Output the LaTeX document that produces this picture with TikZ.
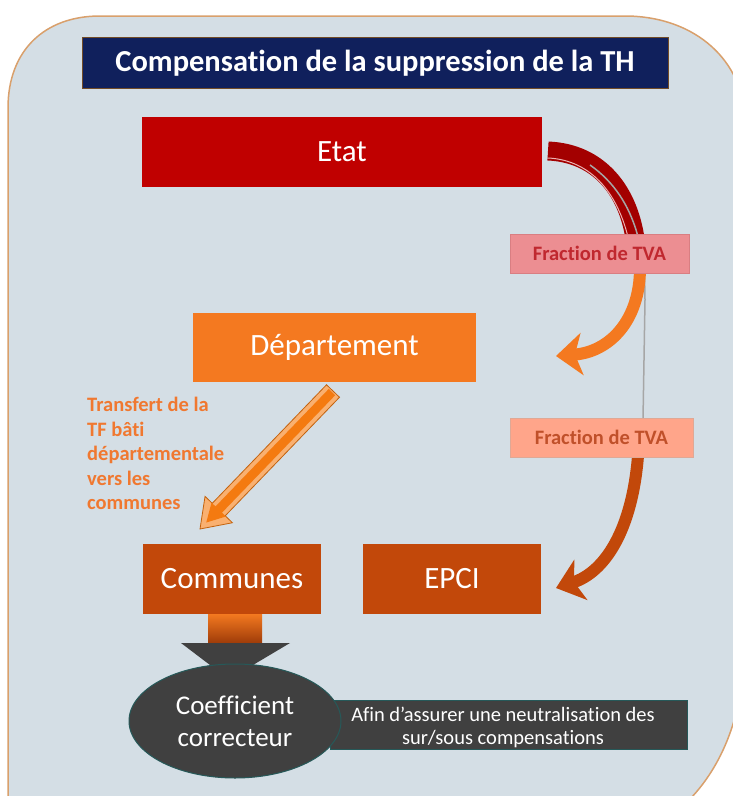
\documentclass[tikz,border=0pt]{standalone}
\usepackage{fontspec}
\setmainfont{Carlito}[RawFeature=-liga]
\usetikzlibrary{arrows.meta,shapes.geometric,calc}
\definecolor{bgfill}{HTML}{D4DEE5}
\definecolor{bgline}{HTML}{D9A06C}
\definecolor{navy}{HTML}{10205C}
\definecolor{etatred}{HTML}{C00000}
\definecolor{deporange}{HTML}{F47920}
\definecolor{comorange}{HTML}{C2480A}
\definecolor{darkgray}{HTML}{404040}
\definecolor{lab1fill}{HTML}{EC8E92}
\definecolor{lab1text}{HTML}{C0282F}
\definecolor{lab2fill}{HTML}{FFA58A}
\definecolor{lab2text}{HTML}{C0502A}
\definecolor{transtext}{HTML}{F07830}
\definecolor{arrlight}{HTML}{F9B070}
\definecolor{arrmid}{HTML}{F47A10}
\tikzset{
  box/.style={rectangle, inner sep=0pt, text=white, font=\fontsize{31}{34}\selectfont},
  tvalab/.style={rectangle, inner sep=0pt, minimum height=39pt, font=\bfseries\fontsize{20.5}{23}\selectfont},
  bighead/.style={-{Stealth[width=42pt,length=26pt,inset=7pt]}},
}
\begin{document}
\begin{tikzpicture}[x=1pt,y=-1pt]
\useasboundingbox (0,0) rectangle (733,796);
% background
\path[fill=bgfill, draw=bgline, line width=1.5pt]
  (8,820) -- (8,108) .. controls (8,50) and (45,16) .. (100,16) -- (625,16)
  .. controls (690,16) and (740,55) .. (745,115) -- (745,640)
  .. controls (745,730) and (710,790) .. (665,820) -- cycle;
% title
\node[rectangle, fill=navy, draw=brown!60!black, line width=1pt, minimum width=586pt, minimum height=51pt, text=white, font=\bfseries\fontsize{30.5}{33}\selectfont, inner sep=0pt] (title) at (375,63) {Compensation de la suppression de la TH};
% boxes
\node[box, fill=etatred, minimum width=400pt, minimum height=70pt] (etat) at (342,152) {Etat};
\node[box, fill=deporange, minimum width=283pt, minimum height=69pt] (dep) at (334.5,347.5) {Département};
\node[box, fill=comorange, minimum width=178pt, minimum height=70pt] (com) at (232,579) {Communes};
\node[box, fill=comorange, minimum width=178pt, minimum height=70pt] (epci) at (452,579) {EPCI};
% curved arrows
\coordinate (a1s) at (548,151);
\coordinate (a1m) at (636,246);
\coordinate (a1n) at (640,268);
\coordinate (a1e) at (556,356);
\draw[etatred!85!black, line width=19pt] (a1s) .. controls (598,153) and (630,190) .. (a1m);
\draw[white!70!etatred, line width=1pt] (548,158) .. controls (592,160) and (620,195) .. (630,246);
\draw[draw=gray!70, line width=1.5pt] (590,165) .. controls (640,200) and (645,260) .. (645,300) -- (643,420);
\draw[deporange, line width=12pt, bighead] (a1n) .. controls (640,320) and (610,352) .. (a1e);
\coordinate (a2s) at (638,456);
\coordinate (a2e) at (556,588);
\draw[comorange, line width=12pt, bighead] (a2s) .. controls (632,530) and (605,572) .. (a2e);
% labels
\node[tvalab, minimum width=179pt, fill=lab1fill, draw=lab1text!60, text=lab1text] (lab1) at (599.5,253.5) {Fraction de TVA};
\node[tvalab, minimum width=183pt, fill=lab2fill, draw=lab2text!50, text=lab2text] (lab2) at (601.5,437.5) {Fraction de TVA};
% diagonal arrow
\coordinate (d1) at (333,391);
\coordinate (d2) at (200,529);
\coordinate (hb) at ($(d2)!27pt!(d1)$);
\filldraw[fill=arrlight, draw=arrmid!80!black, line width=0.8pt]
  ($(d1)!9pt!90:(d2)$) -- ($(hb)!9pt!90:(d2)$) -- ($(hb)!19pt!90:(d2)$) -- (d2)
  -- ($(hb)!19pt!-90:(d2)$) -- ($(hb)!9pt!-90:(d2)$) -- ($(d1)!9pt!-90:(d2)$) -- cycle;
\draw[arrmid, line width=9pt] ($(d1)!1.5pt!(d2)$) -- ($(hb)!3pt!(d2)$);
\fill[arrmid] ($(hb)!10pt!-90:(d2)$) -- ($(d2)!9pt!(hb)$) -- ($(hb)!10pt!90:(d2)$) -- cycle;
\node[anchor=north west, align=left, text=transtext, font=\bfseries\fontsize{20.5}{24.5}\selectfont, inner sep=0pt] (trans) at (87,397) {Transfert de la\\TF bâti\\départementale\\vers les\\communes};
% down block arrow
\shade[top color=deporange, bottom color=comorange!80!black] (208,614) rectangle (262,644);
\fill[darkgray] (181,643) -- (290,643) -- (253,665) -- (210,665) -- cycle;
% ellipse and note
\node[rectangle, fill=darkgray, draw=teal!40!darkgray, line width=1pt, minimum width=357pt, minimum height=49pt, inner sep=0pt] (note) at (508.5,724.5) {};
\node[ellipse, fill=darkgray, draw=teal!40!darkgray, line width=1pt, minimum width=212pt, minimum height=114pt, inner sep=0pt, text=white, align=center, font=\fontsize{27}{32}\selectfont] (coef) at (235,721) {Coefficient\\correcteur};
\node[text=white, align=center, font=\fontsize{20.5}{23}\selectfont, inner sep=0pt] (notetxt) at (503,727) {Afin d’assurer une neutralisation des\\sur/sous compensations};
\end{tikzpicture}
\end{document}
